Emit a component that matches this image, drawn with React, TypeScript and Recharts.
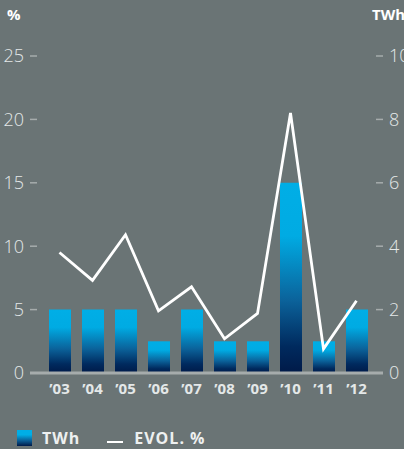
import { ComposedChart, Bar, Line, XAxis, YAxis, ReferenceLine } from "recharts";

const years = ["’03", "’04", "’05", "’06", "’07", "’08", "’09", "’10", "’11", "’12"];
const twh = [2, 2, 2, 1, 2, 1, 1, 6, 1, 2];
const evol = [9.5, 7.3, 10.9, 4.9, 6.8, 2.7, 4.7, 20.5, 1.9, 5.7];
const pctTicks = [0, 5, 10, 15, 20, 25];
const twhTicks = [0, 2, 4, 6, 8, 10];

const BG = "#6a7475";
const TICK_TEXT = "#e4e8e8";
const TICK_LINE = "#a6acac";
const FONT = "'Open Sans', sans-serif";

const chartData = years.map((year, i) => ({ year, twh: twh[i], evol: evol[i] }));

// axis line across the bottom, a bit wider than the plot area
const BaseLine = (props: any) => (
  <line
    x1={props.x1 - 7}
    x2={props.x2 + 7}
    y1={props.y1}
    y2={props.y2}
    stroke={TICK_LINE}
    strokeWidth={3}
  />
);

export default function App() {
  const lightTick = { fontSize: 18, fill: TICK_TEXT, fontFamily: FONT, fontWeight: 300 };
  return (
    <div style={{ position: "fixed", left: 0, top: 0, width: 404, height: 449, background: BG, overflow: "hidden" }}>
      <ComposedChart
        width={404}
        height={449}
        data={chartData}
        margin={{ top: 56, right: 0, left: 0, bottom: 46 }}
      >
        <defs>
          <linearGradient id="barFill" x1="0" y1="0" x2="0" y2="1">
            <stop offset="0" stopColor="#00aee6" />
            <stop offset="0.28" stopColor="#00abe3" />
            <stop offset="0.62" stopColor="#0b629a" />
            <stop offset="0.86" stopColor="#002a5e" />
            <stop offset="1" stopColor="#001a48" />
          </linearGradient>
        </defs>
        <XAxis
          dataKey="year"
          axisLine={false}
          tickLine={false}
          tickSize={0}
          tickMargin={10}
          height={30}
          padding={{ left: 6, right: 3 }}
          interval={0}
          tick={{ fontSize: 15, fill: TICK_TEXT, fontFamily: FONT, fontWeight: 700 }}
        />
        <YAxis
          yAxisId="pct"
          orientation="left"
          width={37}
          domain={[0, 25]}
          ticks={pctTicks}
          axisLine={false}
          tickSize={7}
          tickMargin={6}
          tickLine={{ stroke: TICK_LINE, strokeWidth: 1.5 }}
          tick={lightTick}
        />
        <YAxis
          yAxisId="twh"
          orientation="right"
          width={28}
          domain={[0, 10]}
          ticks={twhTicks}
          axisLine={false}
          tickSize={7}
          tickMargin={6}
          tickLine={{ stroke: TICK_LINE, strokeWidth: 1.5 }}
          tick={{ ...lightTick, textAnchor: "start" }}
        />
        <Bar yAxisId="twh" dataKey="twh" fill="url(#barFill)" barSize={22} isAnimationActive={false} />
        <ReferenceLine yAxisId="pct" y={0} shape={BaseLine} />
        <Line
          yAxisId="pct"
          type="linear"
          dataKey="evol"
          stroke="#ffffff"
          strokeWidth={2.8}
          dot={false}
          activeDot={false}
          isAnimationActive={false}
        />
      </ComposedChart>

      <div style={{ position: "absolute", left: 7, top: 4, color: "#fff", fontFamily: FONT, fontWeight: 700, fontSize: 15 }}>%</div>
      <div style={{ position: "absolute", left: 372, top: 4, color: "#fff", fontFamily: FONT, fontWeight: 700, fontSize: 15, whiteSpace: "nowrap" }}>TWh</div>

      <div style={{ position: "absolute", left: 17, top: 427, display: "flex", alignItems: "center", fontFamily: FONT, fontWeight: 700, fontSize: 16, color: "#eef0f0" }}>
        <span style={{ display: "inline-block", width: 15, height: 16, background: "linear-gradient(#00aee6 0%, #00aee6 30%, #0b629a 65%, #001a48 100%)" }} />
        <span style={{ marginLeft: 10, letterSpacing: 1 }}>TWh</span>
        <span style={{ display: "inline-block", width: 16, height: 2.5, background: "#fff", marginLeft: 27, marginTop: 8 }} />
        <span style={{ marginLeft: 11, letterSpacing: 1 }}>EVOL. %</span>
      </div>
    </div>
  );
}
